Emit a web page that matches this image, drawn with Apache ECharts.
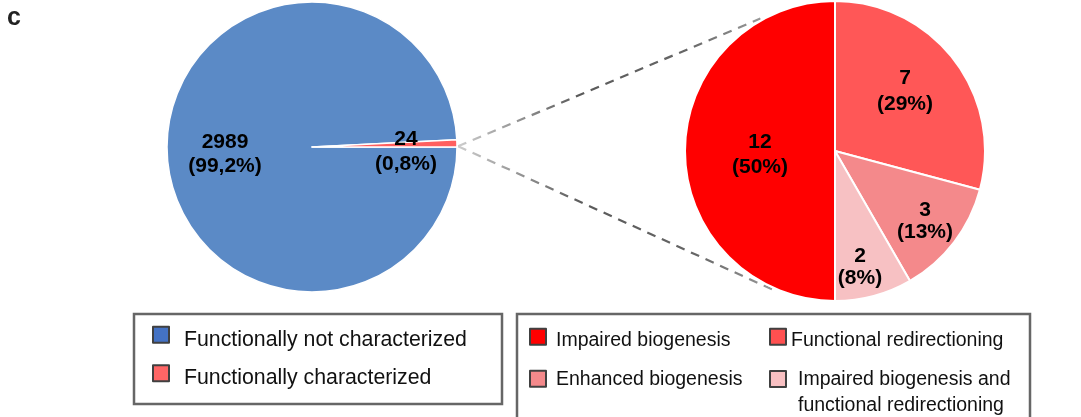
<!DOCTYPE html>
<html><head><meta charset="utf-8">
<script src="https://cdn.jsdelivr.net/npm/echarts@6/dist/echarts.min.js"></script>
<style>html,body{margin:0;padding:0;background:#fff}#c{width:1081px;height:417px}</style>
</head><body><div id="c"></div>
<script>
// ---- data ----
const overviewNames = ['Functionally not characterized', 'Functionally characterized'];
const overviewValues = [2989, 24];
const detailNames = ['Impaired biogenesis', 'Functional redirectioning', 'Enhanced biogenesis', 'Impaired biogenesis and\nfunctional redirectioning'];
const detailValues = [12, 7, 3, 2];

// ---- styles / layout ----
const FONT = 'Liberation Sans, Arial, sans-serif';
const overviewColors = ['#5B8AC6', '#FF5F5F'];
const overviewLegendColors = ['#4472C4', '#FF6666'];
const detailColors = ['#FF0000', '#FF5757', '#F4898B', '#F7C1C3'];
const detailLegendColors = ['#FF0000', '#FF5050', '#F4898B', '#F8C0C2'];
const L = {cx: 312, cy: 147, r: 145};
const R = {cx: 835, cy: 151, r: 150};
// label centre offsets from the pie centre (px) and line heights
const overviewLabelOffset = [[-87, 7], [94, 4.5]];
const overviewLabelLH = [23.5, 25];
const detailLabelOffset = [[-75, 3.8], [70, -59.6], [90, 70.5], [25, 116]];
const detailLabelLH = [25, 26, 22, 22.5];

function offsetLayout(P, off) {
  return function (params) {
    const lr = params.labelRect;
    const x = lr.x + lr.width / 2, y = lr.y + lr.height / 2;
    const o = off[params.dataIndex];
    return {dx: P.cx + o[0] - x, dy: P.cy + o[1] - y};
  };
}
const labelStyle = {
  position: 'inside', fontSize: 21, fontWeight: 'bold', color: '#000',
  fontFamily: FONT, align: 'center'
};

function edgePoint(P, deg, extra) {
  const a = deg * Math.PI / 180;
  const rr = P.r + (extra || 0);
  return [P.cx + rr * Math.cos(a), P.cy - rr * Math.sin(a)];
}
const start = edgePoint(L, 0.3, 1);
const upEnd = edgePoint(R, 119.4, 2);
const downEnd = edgePoint(R, -114, 2);
function dashLine(p1, p2) {
  return {
    type: 'line', silent: true,
    shape: {x1: p1[0], y1: p1[1], x2: p2[0], y2: p2[1]},
    style: {
      lineWidth: 2.2, lineDash: [9, 7],
      stroke: new echarts.graphic.LinearGradient(0, 0, 1, 0, [
        {offset: 0, color: '#cfcfcf'}, {offset: 0.4, color: '#5a5a5a'},
        {offset: 0.75, color: '#666'}, {offset: 1, color: '#9a9a9a'}
      ])
    }
  };
}

const legendBase = {
  orient: 'vertical', padding: 0, icon: 'rect', selectedMode: false,
  itemWidth: 16, itemHeight: 16,
  itemStyle: {borderColor: '#404040', borderWidth: 2},
};
function tok(size, pad) {
  return {fontSize: size, fontFamily: FONT, color: '#111', padding: pad};
}
function legendItem(i, left, top, pad) {
  return Object.assign({}, legendBase, {
    data: [{name: detailNames[i], itemStyle: {color: detailLegendColors[i]}}],
    left: left, top: top,
    formatter: n => '{t|' + n + '}',
    textStyle: {fontSize: 19.5, fontFamily: FONT, color: '#111', rich: {t: tok(19.5, pad)}}
  });
}

const chart = echarts.init(document.getElementById('c'), null, {renderer: 'canvas'});
chart.setOption({
  animation: false,
  backgroundColor: '#fff',
  title: {text: 'c', left: 7, top: 6, padding: 0, textStyle: {fontSize: 25, fontWeight: 'bold', color: '#222', fontFamily: FONT}},
  legend: [
    Object.assign({}, legendBase, {
      data: overviewNames.map((n, i) => ({name: n, itemStyle: {color: overviewLegendColors[i]}})),
      left: 152, top: 325.85, itemGap: 13.9,
      formatter: n => '{t|' + n + '}',
      textStyle: {fontSize: 21.3, fontFamily: FONT, color: '#111', rich: {t: tok(21.3, [10, 0, 0, 10])}}
    }),
    legendItem(0, 529, 327.75, [8, 0, 0, 5]),
    legendItem(2, 529, 369.5, [1.5, 0, 0, 5]),
    legendItem(1, 769, 327.75, [8, 0, 0, 0]),
    Object.assign({}, legendBase, {
      data: [{name: detailNames[3], itemStyle: {color: detailLegendColors[3]}}],
      left: 769, top: 369.55,
      formatter: n => n.split('\n').map((s, k) => '{d' + k + '|' + s + '}').join('\n'),
      textStyle: {fontSize: 19.5, fontFamily: FONT, color: '#111',
        rich: {d0: tok(19.5, [27.4, 0, 0, 7]), d1: tok(19.5, [6.5, 0, 0, 7])}}
    })
  ],
  series: [
    {
      type: 'pie', center: [L.cx, L.cy], radius: [0, L.r], startAngle: 0, clockwise: true,
      percentPrecision: 1, avoidLabelOverlap: false,
      data: overviewNames.map((n, i) => ({name: n, value: overviewValues[i],
        itemStyle: {color: overviewColors[i]}, label: {lineHeight: overviewLabelLH[i]}})),
      itemStyle: {borderColor: '#fff', borderWidth: 1.5},
      label: Object.assign({}, labelStyle, {
        formatter: p => p.value + '\n(' + p.percent.toFixed(1).replace('.', ',') + '%)'
      }),
      labelLine: {show: false},
      labelLayout: offsetLayout(L, overviewLabelOffset),
      emphasis: {disabled: true}
    },
    {
      type: 'pie', center: [R.cx, R.cy], radius: [0, R.r], startAngle: 270, clockwise: true,
      percentPrecision: 0, avoidLabelOverlap: false,
      data: detailNames.map((n, i) => ({name: n, value: detailValues[i],
        itemStyle: {color: detailColors[i]}, label: {lineHeight: detailLabelLH[i]}})),
      itemStyle: {borderColor: '#fff', borderWidth: 2},
      label: Object.assign({}, labelStyle, {
        formatter: p => p.value + '\n(' + Math.round(p.percent) + '%)'
      }),
      labelLine: {show: false},
      labelLayout: offsetLayout(R, detailLabelOffset),
      emphasis: {disabled: true}
    }
  ],
  graphic: [
    dashLine(start, upEnd),
    dashLine(start, downEnd),
    {type: 'rect', silent: true, shape: {x: 134, y: 314, width: 368, height: 90},
     style: {fill: 'none', stroke: '#666', lineWidth: 2.5}},
    {type: 'rect', silent: true, shape: {x: 517, y: 314, width: 513, height: 120},
     style: {fill: 'none', stroke: '#666', lineWidth: 2.5}}
  ]
});
</script>
</body></html>
